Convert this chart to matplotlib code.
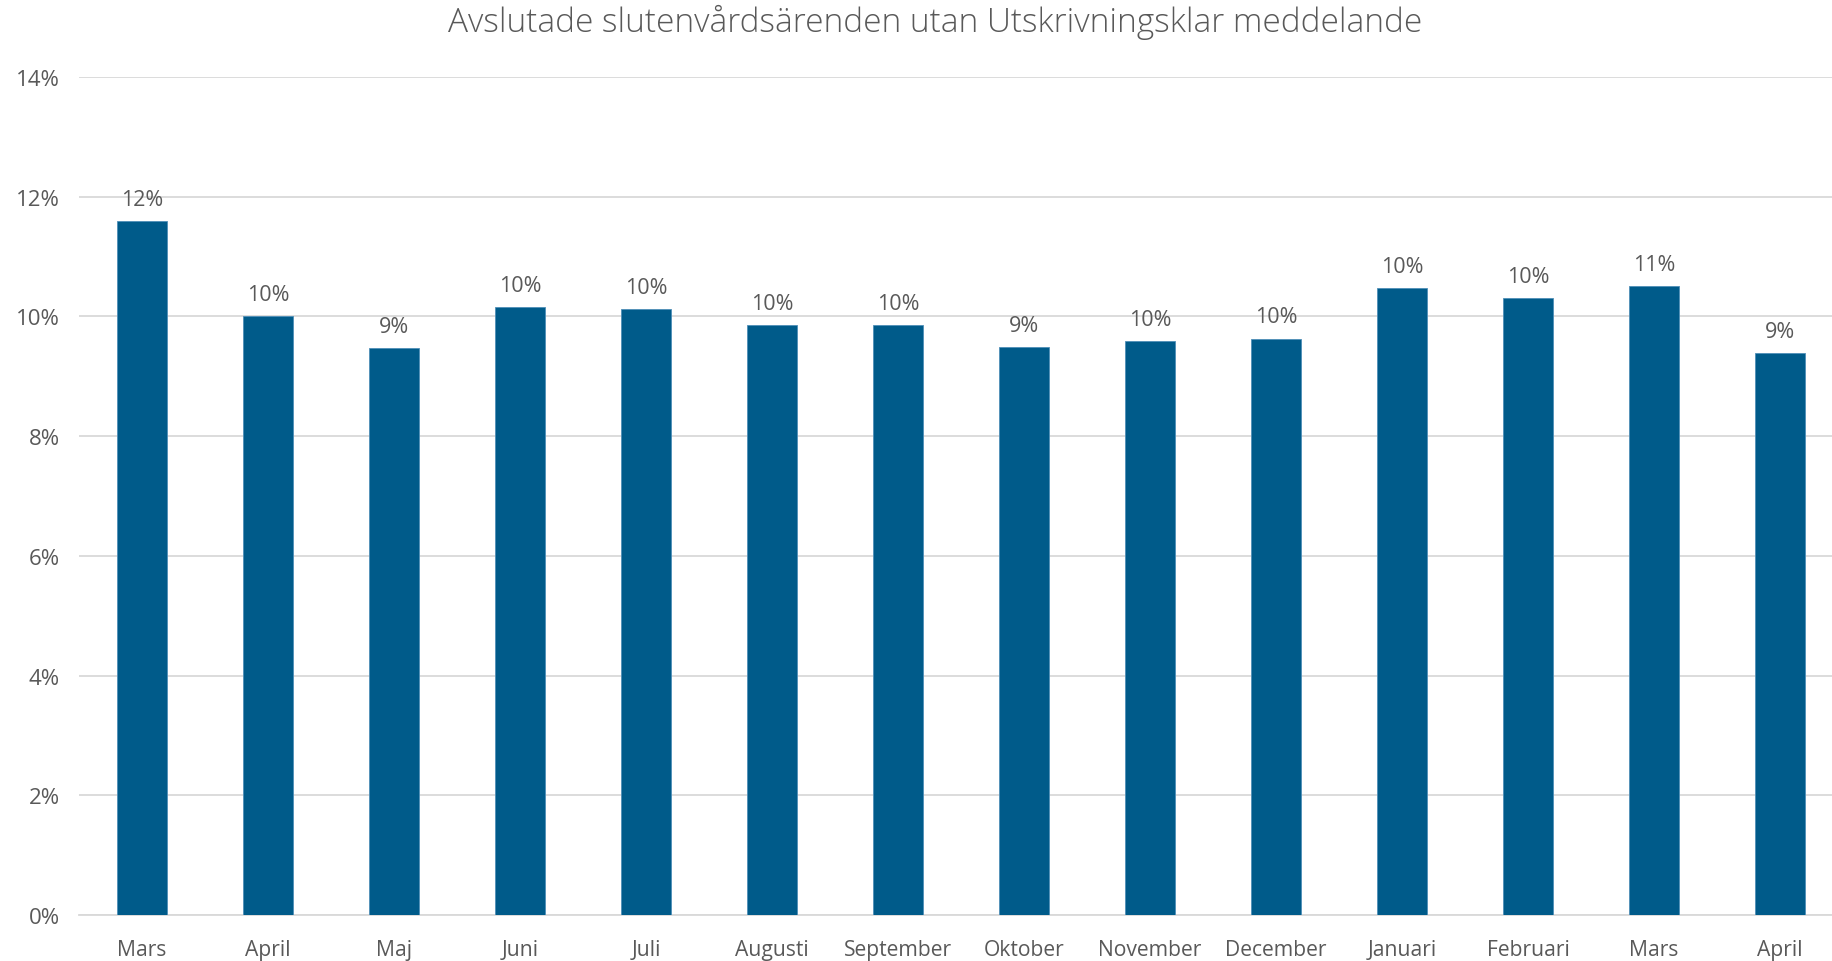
import matplotlib
matplotlib.use("Agg")
import matplotlib.pyplot as plt
from matplotlib.ticker import PercentFormatter

months = ["Mars", "April", "Maj", "Juni", "Juli", "Augusti", "September",
          "Oktober", "November", "December", "Januari", "Februari", "Mars", "April"]
values = [0.1160, 0.1000, 0.0947, 0.1015, 0.1013, 0.0986, 0.0986,
          0.0949, 0.0959, 0.0963, 0.1047, 0.1031, 0.1051, 0.0939]
yticks = [0, 0.02, 0.04, 0.06, 0.08, 0.10, 0.12, 0.14]
title = "Avslutade slutenvårdsärenden utan Utskrivningsklar meddelande"

plt.rcParams["font.family"] = ["Open Sans", "DejaVu Sans"]
txt = "#595959"
bar_color = "#005B8A"

W, H = 1832, 962
fig = plt.figure(figsize=(W / 100, H / 100), dpi=100)
ax = fig.add_axes([79 / W, 46 / H, (1843 - 79) / W, (916 - 78) / H])

x = list(range(len(months)))
ax.bar(x, values, width=0.4, color=bar_color, edgecolor="#4f8fb8", linewidth=0.6, zorder=3)

for xi, v in zip(x, values):
    ax.annotate(f"{round(v * 100):.0f}%", (xi, v), xytext=(0, 8), textcoords="offset points",
                ha="center", va="bottom", fontsize=15.5, color=txt)

ax.set_xlim(-0.5, len(months) - 0.5)
ax.set_ylim(0, 0.14)
ax.set_yticks(yticks)
ax.yaxis.set_major_formatter(PercentFormatter(1.0, decimals=0))
ax.set_xticks(x)
ax.set_xticklabels(months)
ax.tick_params(axis="x", length=0, labelsize=15.2, labelcolor=txt, pad=17)
ax.tick_params(axis="y", length=0, labelsize=16, labelcolor=txt, pad=14)
ax.grid(axis="y", color="#D9D9D9", linewidth=1.3, zorder=0)
for s in ["top", "right", "left"]:
    ax.spines[s].set_visible(False)
ax.spines["bottom"].set_color("#D9D9D9")
ax.spines["bottom"].set_linewidth(1.3)

fig.text(935 / W, 1 - 22 / H, title, ha="center", va="center",
         fontsize=24, color=txt, fontweight="light")

fig.savefig("out.png", dpi=100)
